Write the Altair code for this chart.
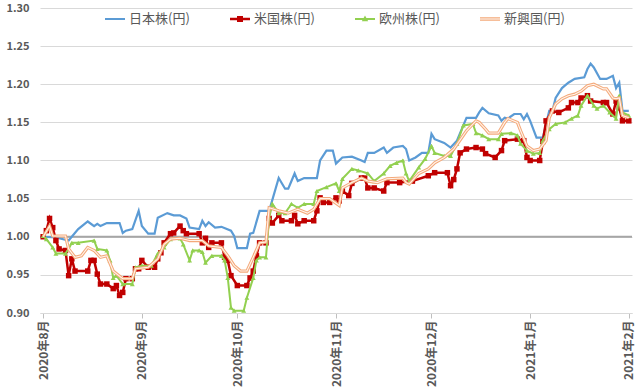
import altair as alt
import pandas as pd

# ---------------- data ----------------
series_names = ["日本株(円)", "米国株(円)", "欧州株(円)", "新興国(円)"]
series_colors = ["#5B9BD5", "#C00000", "#92D050", "#F4A97A"]

jp_dates = ["2020-08-01", "2020-08-05", "2020-08-09", "2020-08-12", "2020-08-15", "2020-08-17", "2020-08-18",
            "2020-08-19", "2020-08-21", "2020-08-25", "2020-08-26", "2020-08-27", "2020-08-29", "2020-08-31",
            "2020-09-01", "2020-09-03", "2020-09-05", "2020-09-06", "2020-09-09", "2020-09-11", "2020-09-13",
            "2020-09-15", "2020-09-16", "2020-09-19", "2020-09-20", "2020-09-21", "2020-09-22", "2020-09-24",
            "2020-09-26", "2020-09-29", "2020-09-30", "2020-10-01", "2020-10-04", "2020-10-05", "2020-10-06",
            "2020-10-08", "2020-10-11", "2020-10-14", "2020-10-16", "2020-10-17", "2020-10-19", "2020-10-20",
            "2020-10-22", "2020-10-26", "2020-10-27", "2020-10-29", "2020-10-31", "2020-11-01", "2020-11-03",
            "2020-11-06", "2020-11-09", "2020-11-10", "2020-11-11", "2020-11-13", "2020-11-16", "2020-11-17",
            "2020-11-19", "2020-11-22", "2020-11-23", "2020-11-24", "2020-11-26", "2020-11-28", "2020-11-30",
            "2020-12-01", "2020-12-02", "2020-12-05", "2020-12-07", "2020-12-09", "2020-12-12", "2020-12-15",
            "2020-12-16", "2020-12-17", "2020-12-19", "2020-12-22", "2020-12-23", "2020-12-24", "2020-12-25",
            "2020-12-27", "2020-12-29", "2020-12-30", "2020-12-31", "2021-01-01", "2021-01-03", "2021-01-05",
            "2021-01-07", "2021-01-08", "2021-01-09", "2021-01-11", "2021-01-13", "2021-01-15", "2021-01-18",
            "2021-01-19", "2021-01-20", "2021-01-21", "2021-01-23", "2021-01-25", "2021-01-27", "2021-01-28",
            "2021-01-29", "2021-01-30", "2021-02-01"]
jp_vals = [1.000, 0.999, 0.995, 1.010, 1.020, 1.014, 1.017,
           1.014, 1.018, 1.018, 1.005, 1.008, 1.010, 1.034,
           1.014, 1.004, 1.004, 1.025, 1.031, 1.028, 1.028,
           1.024, 1.012, 1.010, 1.021, 1.014, 1.019, 1.012,
           1.013, 1.008, 1.001, 0.985, 0.985, 1.004, 1.005,
           1.034, 1.034, 1.077, 1.063, 1.063, 1.083, 1.073,
           1.077, 1.077, 1.100, 1.113, 1.113, 1.096, 1.104,
           1.105, 1.100, 1.098, 1.110, 1.110, 1.117, 1.110,
           1.117, 1.119, 1.115, 1.100, 1.104, 1.110, 1.110,
           1.135, 1.128, 1.123, 1.117, 1.126, 1.156, 1.156,
           1.163, 1.169, 1.162, 1.159, 1.152, 1.156, 1.155,
           1.161, 1.161, 1.154, 1.161, 1.152, 1.130, 1.130,
           1.165, 1.165, 1.182, 1.195, 1.202, 1.207, 1.209,
           1.220, 1.227, 1.222, 1.207, 1.207, 1.211, 1.195,
           1.202, 1.165, 1.165]

us_dates = ["2020-08-01", "2020-08-02", "2020-08-03", "2020-08-04", "2020-08-05", "2020-08-06", "2020-08-08",
            "2020-08-09", "2020-08-10", "2020-08-11", "2020-08-15", "2020-08-16", "2020-08-17", "2020-08-18",
            "2020-08-19", "2020-08-21", "2020-08-23", "2020-08-24", "2020-08-25", "2020-08-26", "2020-08-27",
            "2020-08-29", "2020-08-30", "2020-08-31", "2020-09-01", "2020-09-03", "2020-09-05", "2020-09-06",
            "2020-09-07", "2020-09-08", "2020-09-10", "2020-09-11", "2020-09-13", "2020-09-14", "2020-09-15",
            "2020-09-19", "2020-09-20", "2020-09-21", "2020-09-22", "2020-09-23", "2020-09-26", "2020-09-27",
            "2020-09-28", "2020-09-29", "2020-10-01", "2020-10-04", "2020-10-05", "2020-10-06", "2020-10-07",
            "2020-10-08", "2020-10-10", "2020-10-11", "2020-10-12", "2020-10-14", "2020-10-15", "2020-10-18",
            "2020-10-19", "2020-10-20", "2020-10-22", "2020-10-25", "2020-10-26", "2020-10-27", "2020-10-28",
            "2020-10-30", "2020-11-01", "2020-11-02", "2020-11-03", "2020-11-05", "2020-11-06", "2020-11-09",
            "2020-11-10", "2020-11-11", "2020-11-13", "2020-11-16", "2020-11-17", "2020-11-21", "2020-11-25",
            "2020-11-30", "2020-12-02", "2020-12-06", "2020-12-07", "2020-12-08", "2020-12-09", "2020-12-10",
            "2020-12-12", "2020-12-15", "2020-12-17", "2020-12-18", "2020-12-21", "2020-12-23", "2020-12-24",
            "2020-12-28", "2020-12-30", "2020-12-31", "2021-01-01", "2021-01-04", "2021-01-05", "2021-01-06",
            "2021-01-08", "2021-01-10", "2021-01-13", "2021-01-14", "2021-01-16", "2021-01-17", "2021-01-19",
            "2021-01-20", "2021-01-24", "2021-01-25", "2021-01-27", "2021-01-28", "2021-01-29", "2021-01-30",
            "2021-02-01"]
us_vals = [1.000, 1.008, 1.024, 1.012, 0.995, 0.984, 0.982,
           0.949, 0.971, 0.955, 0.955, 0.969, 0.969, 0.951,
           0.938, 0.938, 0.932, 0.936, 0.923, 0.927, 0.945,
           0.945, 0.958, 0.958, 0.969, 0.960, 0.960, 0.971,
           0.979, 0.992, 1.004, 1.005, 1.014, 1.008, 1.004,
           1.004, 0.992, 0.998, 0.986, 0.992, 0.992, 0.973,
           0.969, 0.949, 0.936, 0.936, 0.946, 0.955, 0.975,
           0.992, 0.992, 1.024, 1.018, 1.028, 1.021, 1.021,
           1.028, 1.017, 1.021, 1.021, 1.034, 1.051, 1.045,
           1.045, 1.051, 1.047, 1.060, 1.054, 1.070, 1.077,
           1.077, 1.064, 1.064, 1.060, 1.071, 1.071, 1.073,
           1.080, 1.084, 1.084, 1.067, 1.075, 1.089, 1.110,
           1.115, 1.117, 1.115, 1.109, 1.104, 1.113, 1.126,
           1.128, 1.126, 1.104, 1.100, 1.100, 1.125, 1.152,
           1.165, 1.163, 1.169, 1.176, 1.176, 1.182, 1.185,
           1.178, 1.176, 1.176, 1.161, 1.178, 1.169, 1.152,
           1.152]

eu_dates = ["2020-08-01", "2020-08-02", "2020-08-04", "2020-08-05", "2020-08-08", "2020-08-09", "2020-08-10",
            "2020-08-12", "2020-08-17", "2020-08-18", "2020-08-21", "2020-08-22", "2020-08-23", "2020-08-24",
            "2020-08-26", "2020-08-29", "2020-08-30", "2020-09-01", "2020-09-04", "2020-09-06", "2020-09-08",
            "2020-09-10", "2020-09-13", "2020-09-14", "2020-09-16", "2020-09-17", "2020-09-19", "2020-09-20",
            "2020-09-21", "2020-09-23", "2020-09-26", "2020-09-27", "2020-09-28", "2020-09-29", "2020-09-30",
            "2020-10-03", "2020-10-04", "2020-10-06", "2020-10-07", "2020-10-08", "2020-10-10", "2020-10-11",
            "2020-10-12", "2020-10-14", "2020-10-16", "2020-10-18", "2020-10-20", "2020-10-22", "2020-10-25",
            "2020-10-26", "2020-10-29", "2020-11-01", "2020-11-02", "2020-11-03", "2020-11-06", "2020-11-08",
            "2020-11-11", "2020-11-13", "2020-11-16", "2020-11-18", "2020-11-20", "2020-11-22", "2020-11-23",
            "2020-11-24", "2020-11-27", "2020-11-29", "2020-12-01", "2020-12-02", "2020-12-05", "2020-12-07",
            "2020-12-09", "2020-12-11", "2020-12-14", "2020-12-15", "2020-12-17", "2020-12-19", "2020-12-22",
            "2020-12-23", "2020-12-26", "2020-12-28", "2020-12-29", "2020-12-31", "2021-01-02", "2021-01-04",
            "2021-01-05", "2021-01-07", "2021-01-09", "2021-01-12", "2021-01-14", "2021-01-16", "2021-01-17",
            "2021-01-19", "2021-01-21", "2021-01-22", "2021-01-24", "2021-01-26", "2021-01-28", "2021-01-29",
            "2021-01-30", "2021-02-01"]
eu_vals = [1.001, 0.997, 0.986, 0.978, 0.978, 0.984, 0.992,
           0.992, 0.995, 0.984, 0.982, 0.969, 0.946, 0.949,
           0.938, 0.938, 0.960, 0.962, 0.962, 0.978, 0.986,
           0.997, 0.998, 0.990, 0.969, 0.982, 0.982, 0.980,
           0.966, 0.975, 0.975, 0.969, 0.946, 0.907, 0.903,
           0.903, 0.920, 0.946, 0.969, 0.973, 0.973, 1.025,
           1.043, 1.031, 1.031, 1.043, 1.038, 1.043, 1.043,
           1.060, 1.065, 1.070, 1.060, 1.076, 1.089, 1.087,
           1.083, 1.073, 1.083, 1.093, 1.097, 1.100, 1.083,
           1.073, 1.091, 1.102, 1.119, 1.110, 1.106, 1.106,
           1.122, 1.146, 1.148, 1.136, 1.133, 1.128, 1.128,
           1.135, 1.136, 1.133, 1.122, 1.113, 1.109, 1.110,
           1.126, 1.141, 1.148, 1.150, 1.155, 1.159, 1.172,
           1.185, 1.172, 1.168, 1.172, 1.163, 1.155, 1.185,
           1.163, 1.159]

em_dates = ["2020-08-01", "2020-08-03", "2020-08-04", "2020-08-08", "2020-08-09", "2020-08-11", "2020-08-13",
            "2020-08-15", "2020-08-17", "2020-08-19", "2020-08-21", "2020-08-23", "2020-08-26", "2020-08-29",
            "2020-08-30", "2020-09-03", "2020-09-06", "2020-09-08", "2020-09-10", "2020-09-13", "2020-09-16",
            "2020-09-20", "2020-09-22", "2020-09-26", "2020-09-28", "2020-09-30", "2020-10-02", "2020-10-04",
            "2020-10-06", "2020-10-08", "2020-10-10", "2020-10-11", "2020-10-14", "2020-10-17", "2020-10-20",
            "2020-10-23", "2020-10-25", "2020-10-27", "2020-10-30", "2020-11-02", "2020-11-03", "2020-11-06",
            "2020-11-09", "2020-11-11", "2020-11-14", "2020-11-17", "2020-11-22", "2020-11-23", "2020-11-24",
            "2020-11-27", "2020-11-30", "2020-12-02", "2020-12-05", "2020-12-08", "2020-12-12", "2020-12-15",
            "2020-12-16", "2020-12-18", "2020-12-19", "2020-12-22", "2020-12-24", "2020-12-25", "2020-12-28",
            "2020-12-29", "2020-12-31", "2021-01-02", "2021-01-04", "2021-01-06", "2021-01-07", "2021-01-09",
            "2021-01-11", "2021-01-13", "2021-01-15", "2021-01-17", "2021-01-19", "2021-01-21", "2021-01-24",
            "2021-01-25", "2021-01-27", "2021-01-28", "2021-01-29", "2021-01-30", "2021-02-01"]
em_vals = [1.000, 1.014, 1.001, 1.001, 0.984, 0.973, 0.975,
           0.986, 0.982, 0.973, 0.975, 0.955, 0.945, 0.945,
           0.958, 0.960, 0.971, 0.990, 0.997, 0.998, 0.995,
           0.995, 0.988, 0.986, 0.975, 0.962, 0.955, 0.955,
           0.973, 0.992, 0.993, 1.038, 1.034, 1.031, 1.036,
           1.031, 1.036, 1.050, 1.050, 1.041, 1.064, 1.071,
           1.077, 1.073, 1.071, 1.076, 1.077, 1.071, 1.069,
           1.083, 1.089, 1.097, 1.104, 1.115, 1.139, 1.152,
           1.150, 1.141, 1.136, 1.136, 1.150, 1.155, 1.150,
           1.139, 1.119, 1.113, 1.115, 1.126, 1.156, 1.174,
           1.181, 1.185, 1.187, 1.191, 1.198, 1.200, 1.194,
           1.194, 1.182, 1.181, 1.182, 1.159, 1.156]

month_ticks = [(2020, 8), (2020, 9), (2020, 10), (2020, 11), (2020, 12), (2021, 1), (2021, 2)]
y_ticks = [0.90, 0.95, 1.00, 1.05, 1.10, 1.15, 1.20, 1.25, 1.30]
baseline_value = [1.0]

# legend symbols: line / line+square / line+triangle / double line (unit box -1..1)
legend_paths = [
    "M-1,-0.1H1V0.1H-1Z",
    "M-1,-0.12H1V0.12H-1Z M-0.3,-0.3H0.3V0.3H-0.3Z",
    "M-1,-0.1H1V0.1H-1Z M0,-0.36L0.32,0.22H-0.32Z",
    "M-1,-0.17H1V0.17H-1Z M-1,-0.06V0.06H1V-0.06Z",
]

# ---------------- build tables ----------------
frames = []
for name, ds, vs in zip(series_names, [jp_dates, us_dates, eu_dates, em_dates],
                        [jp_vals, us_vals, eu_vals, em_vals]):
    frames.append(pd.DataFrame({"date": [d + "T00:00:00" for d in ds], "value": vs, "series": name}))
df = pd.concat(frames, ignore_index=True)

FONT = "Noto Sans CJK JP"
GRAY_TXT = "#595959"

x_enc = alt.X(
    "date:T",
    scale=alt.Scale(domain=[alt.DateTime(year=2020, month=7, date=31),
                            alt.DateTime(year=2021, month=2, date=2)]),
    axis=alt.Axis(
        values=[alt.DateTime(year=y, month=m, date=1) for y, m in month_ticks],
        format="%Y年%-m月", labelAngle=270, grid=False, title=None,
        domainColor="#D9D9D9", tickColor="#BFBFBF", tickSize=5,
        labelColor=GRAY_TXT, labelFont=FONT, labelFontSize=12, labelFontWeight="bold",
        labelPadding=2, labelOverlap=False, labelFlush=False,
    ),
)
y_enc = alt.Y(
    "value:Q",
    scale=alt.Scale(domain=[0.9, 1.3], nice=False, zero=False),
    axis=alt.Axis(
        values=y_ticks, format=".2f", title=None, domain=False, ticks=False,
        gridColor="#D9D9D9", gridWidth=1,
        labelColor=GRAY_TXT, labelFont=FONT, labelFontSize=11, labelFontWeight="bold",
        labelPadding=11,
    ),
)

base = alt.Chart(df)

rule = alt.Chart(pd.DataFrame({"value": baseline_value})).mark_rule(
    color="#A6A6A6", strokeWidth=2
).encode(y=y_enc)

def series(name):
    return base.transform_filter(alt.datum.series == name)

jp_line = series(series_names[0]).mark_line(color=series_colors[0], strokeWidth=2.2).encode(x=x_enc, y=y_enc)
us_line = series(series_names[1]).mark_line(color=series_colors[1], strokeWidth=2.5).encode(x=x_enc, y=y_enc)
us_pts = series(series_names[1]).mark_point(shape="square", filled=True, size=30, opacity=1,
                                            color=series_colors[1]).encode(x=x_enc, y=y_enc)
eu_line = series(series_names[2]).mark_line(color=series_colors[2], strokeWidth=2).encode(x=x_enc, y=y_enc)
eu_pts = series(series_names[2]).mark_point(shape="triangle-up", filled=True, size=24, opacity=1,
                                            color=series_colors[2]).encode(x=x_enc, y=y_enc)
em_outer = series(series_names[3]).mark_line(color=series_colors[3], strokeWidth=3.2).encode(x=x_enc, y=y_enc)
em_inner = series(series_names[3]).mark_line(color="#FFF4EC", strokeWidth=1.1).encode(x=x_enc, y=y_enc)

legend_spec = alt.Legend(
    orient="none", legendX=65, legendY=1, direction="horizontal", title=None,
    labelFont=FONT, labelFontSize=13, labelColor=GRAY_TXT, labelOffset=4,
    symbolSize=400, symbolStrokeWidth=0, symbolOpacity=1, columnPadding=40,
)
legend_layer = alt.Chart(pd.DataFrame({"series": series_names})).mark_point(
    filled=True, opacity=0, size=400
).encode(
    color=alt.Color("series:N", scale=alt.Scale(domain=series_names, range=series_colors),
                    sort=series_names, legend=legend_spec),
    shape=alt.Shape("series:N", scale=alt.Scale(domain=series_names, range=legend_paths),
                    sort=series_names, legend=legend_spec),
)

chart = alt.layer(
    rule, jp_line, us_line, us_pts, eu_line, eu_pts, em_outer, em_inner, legend_layer
).properties(
    width=592, height=305,
    autosize=alt.AutoSizeParams(type="none"),
    padding={"left": 40, "top": 8, "right": 8, "bottom": 76},
    background="white",
).configure_view(stroke=None)

chart.save("out.html", embed_options={"renderer": "svg", "actions": False})
